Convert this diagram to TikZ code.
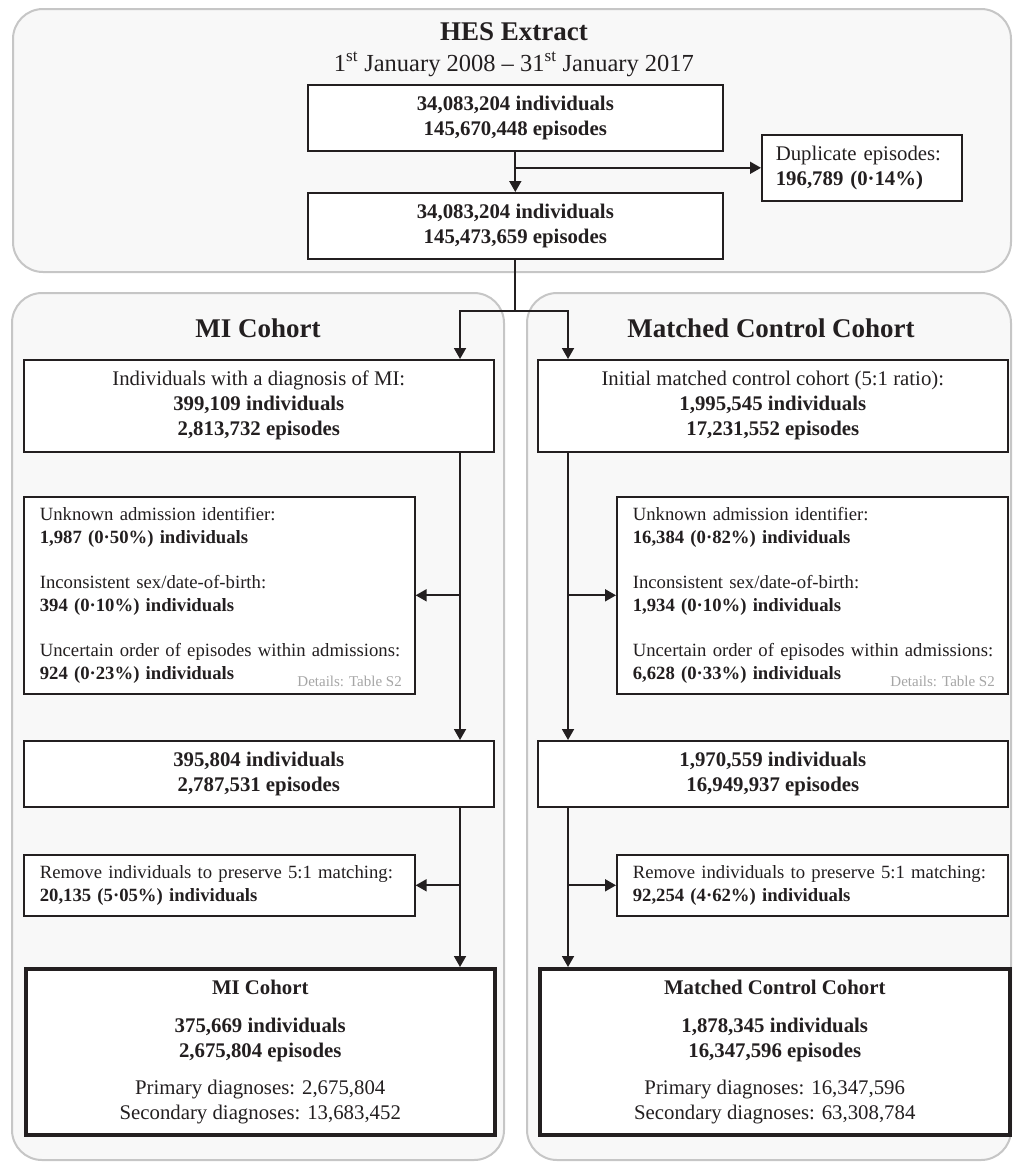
\documentclass[tikz,border=0pt]{standalone}
\usepackage{fontspec}
\setmainfont{Liberation Serif}
\usetikzlibrary{arrows.meta,calc}
\definecolor{contfill}{HTML}{F8F8F8}
\definecolor{contdraw}{HTML}{C6C6C6}
\definecolor{ink}{HTML}{231F20}
\definecolor{detgray}{HTML}{A6A6A6}
\newcommand{\mainfs}{\fontsize{20.8}{25}\selectfont}
\newcommand{\exfs}{\fontsize{18.7}{22.5}\selectfont}
\begin{document}
\begin{tikzpicture}[x=1pt,y=-1pt,
 container/.style={draw=contdraw, fill=contfill, line width=2pt, rounded corners=30pt},
 box/.style={draw=ink, fill=white, line width=1.6pt, inner sep=0pt, anchor=north west, font=\mainfs, align=center, text=ink},
 exbox/.style={box, font=\exfs, align=left, inner xsep=16pt, text width=359pt},
 finbox/.style={box, line width=3.5pt},
 arr/.style={draw=ink, line width=1.8pt, -{Triangle[length=11pt,width=12pt]}},
 conn/.style={draw=ink, line width=1.8pt},
 title/.style={font=\fontsize{27}{30}\selectfont\bfseries, anchor=base, text=ink},
 dettext/.style={font=\fontsize{15}{17}\selectfont, text=detgray, anchor=base east, inner sep=0pt},
]
\useasboundingbox (0,0) rectangle (1013,1162);

% containers
\path[container] (13,9) rectangle (1011,272);
\path[container] (12,293) rectangle (504,1160);
\path[container] (527,293) rectangle (1011,1160);

% titles
\node[title] (thes) at (514,40) {HES Extract};
\node[anchor=base, text=ink, font=\fontsize{24.5}{28}\selectfont] (tdate) at (514,71)
  {1\textsuperscript{st} January 2008 – 31\textsuperscript{st} January 2017};
\node[title] (tmi) at (258,337) {MI Cohort};
\node[title] (tmc) at (771,337) {Matched Control Cohort};

% HES boxes
\node[box, minimum width=415pt, minimum height=66pt] (hes1) at (307,84)
  {\textbf{34,083,204 individuals}\\\textbf{145,670,448 episodes}};
\node[box, minimum width=415pt, minimum height=66pt] (hes2) at (307,192)
  {\textbf{34,083,204 individuals}\\\textbf{145,473,659 episodes}};
\node[box, align=left, inner xsep=14pt, text width=172pt, minimum height=66pt] (dup) at (761,134)
  {\mbox{Duplicate episodes:}\\\textbf{196,789 (0·14\%)}};

% MI column
\node[box, minimum width=470pt, minimum height=92pt] (mi1) at (23,359)
  {Individuals with a diagnosis of MI:\\\textbf{399,109 individuals}\\\textbf{2,813,732 episodes}};
\node[exbox, minimum height=197pt] (miex) at (23,496)
  {\mbox{Unknown admission identifier:}\\\textbf{1,987 (0·50\%) individuals}\\[23pt]
   \mbox{Inconsistent sex/date-of-birth:}\\\textbf{394 (0·10\%) individuals}\\[23pt]
   \mbox{Uncertain order of episodes within admissions:}\\\textbf{924 (0·23\%) individuals}};
\node[dettext] (midet) at (402,686) {Details: Table S2};
\node[box, minimum width=470pt, minimum height=66pt] (mi2) at (23,740)
  {\textbf{395,804 individuals}\\\textbf{2,787,531 episodes}};
\node[exbox, minimum height=61pt, font=\fontsize{18.7}{23}\selectfont] (mirem) at (23,854)
  {\mbox{Remove individuals to preserve 5:1 matching:}\\\textbf{20,135 (5·05\%) individuals}};
\node[finbox, minimum width=469pt, minimum height=166pt] (mifin) at (24,967)
  {\textbf{MI Cohort}\\[13pt]\textbf{375,669 individuals}\\\textbf{2,675,804 episodes}\\[12pt]
   Primary diagnoses: 2,675,804\\Secondary diagnoses: 13,683,452};

% Matched control column
\node[box, minimum width=470pt, minimum height=92pt] (mc1) at (537,359)
  {Initial matched control cohort (5:1 ratio):\\\textbf{1,995,545 individuals}\\\textbf{17,231,552 episodes}};
\node[exbox, minimum height=197pt] (mcex) at (616,496)
  {\mbox{Unknown admission identifier:}\\\textbf{16,384 (0·82\%) individuals}\\[23pt]
   \mbox{Inconsistent sex/date-of-birth:}\\\textbf{1,934 (0·10\%) individuals}\\[23pt]
   \mbox{Uncertain order of episodes within admissions:}\\\textbf{6,628 (0·33\%) individuals}};
\node[dettext] (mcdet) at (995,686) {Details: Table S2};
\node[box, minimum width=470pt, minimum height=66pt] (mc2) at (537,740)
  {\textbf{1,970,559 individuals}\\\textbf{16,949,937 episodes}};
\node[exbox, minimum height=61pt, font=\fontsize{18.7}{23}\selectfont] (mcrem) at (616,854)
  {\mbox{Remove individuals to preserve 5:1 matching:}\\\textbf{92,254 (4·62\%) individuals}};
\node[finbox, minimum width=470pt, minimum height=166pt] (mcfin) at (538,967)
  {\textbf{Matched Control Cohort}\\[13pt]\textbf{1,878,345 individuals}\\\textbf{16,347,596 episodes}\\[12pt]
   Primary diagnoses: 16,347,596\\Secondary diagnoses: 63,308,784};

% helper coordinates
\path (hes2.south) ++(0,51) coordinate (split);
\coordinate (lx) at (460,0);
\coordinate (rx) at (568,0);

% connectors
\draw[arr] (hes1.south) -- (hes2.north);
\draw[arr] (hes1.south |- dup.west) -- (dup.west);
\draw[conn] (hes2.south) -- (split);
\draw[arr] (split) -| (lx |- mi1.north);
\draw[arr] (split) -| (rx |- mc1.north);

\draw[arr] (lx |- mi1.south) -- (lx |- mi2.north);
\draw[arr] (lx |- miex.east) -- (miex.east);
\draw[arr] (lx |- mi2.south) -- (lx |- mifin.north);
\draw[arr] (lx |- mirem.east) -- (mirem.east);

\draw[arr] (rx |- mc1.south) -- (rx |- mc2.north);
\draw[arr] (rx |- mcex.west) -- (mcex.west);
\draw[arr] (rx |- mc2.south) -- (rx |- mcfin.north);
\draw[arr] (rx |- mcrem.west) -- (mcrem.west);
\end{tikzpicture}
\end{document}
